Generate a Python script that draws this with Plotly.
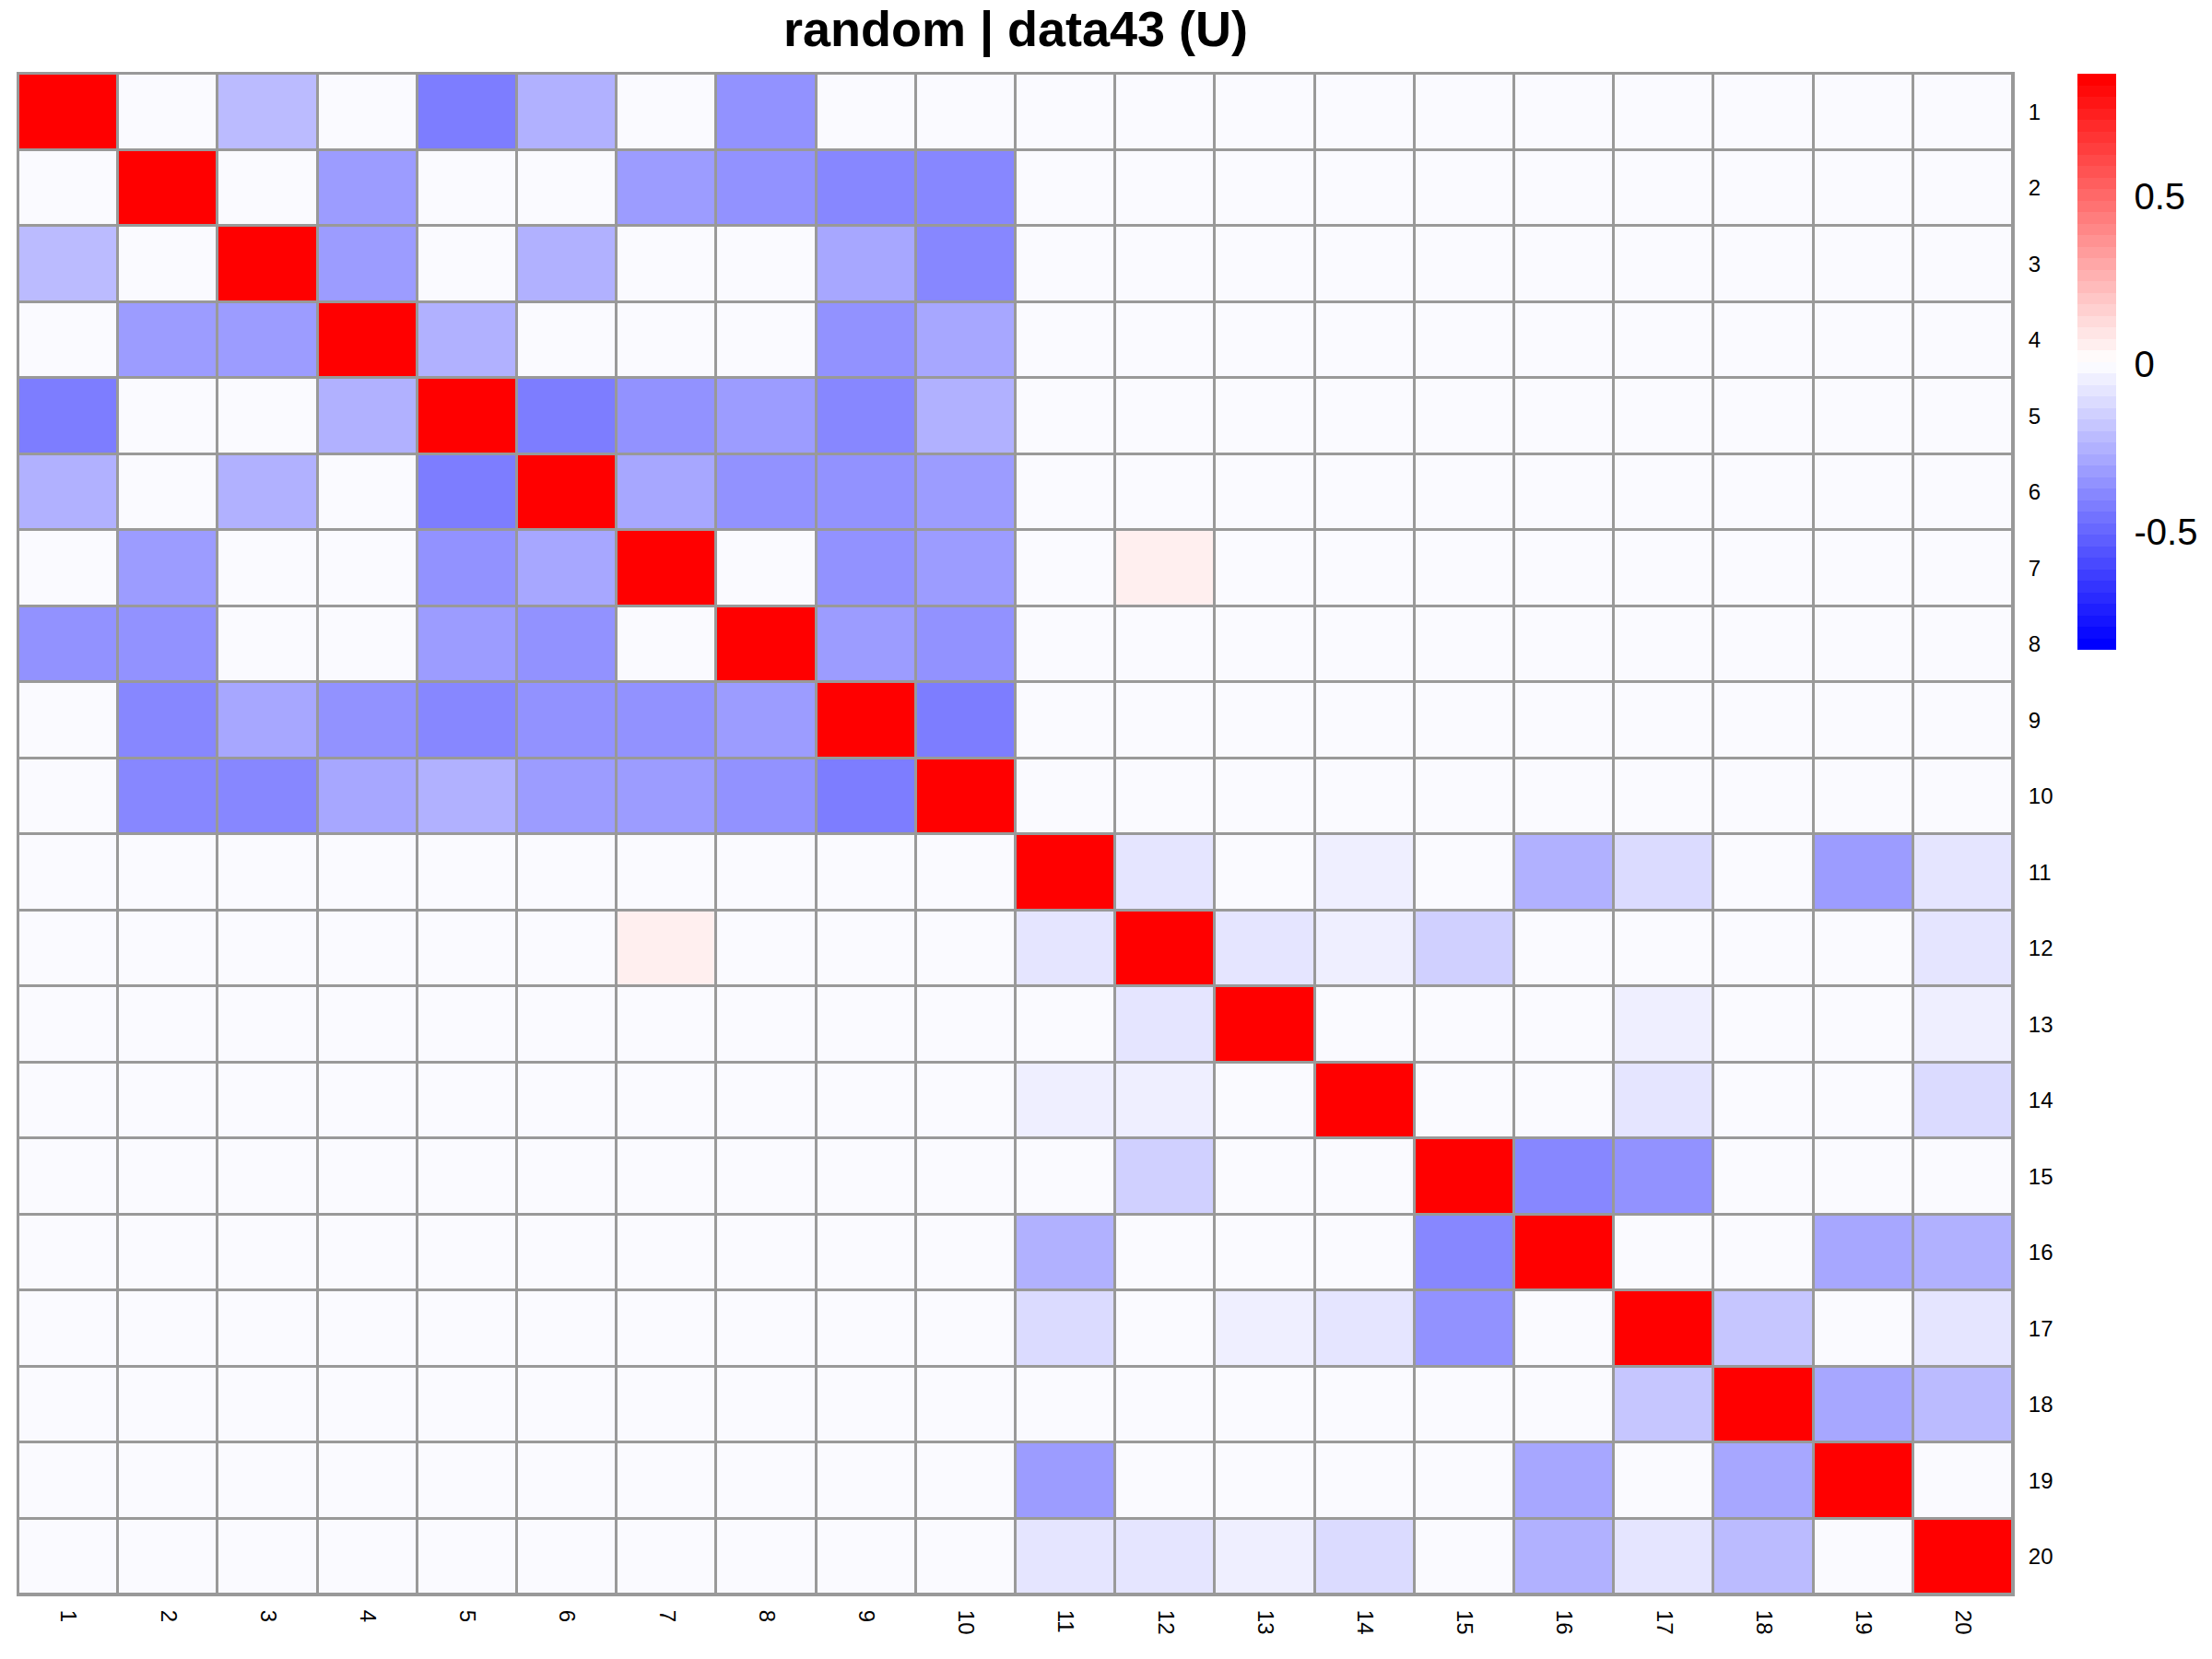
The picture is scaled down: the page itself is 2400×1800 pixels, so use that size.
import plotly.graph_objects as go

# ---- data ----
labels = [str(i) for i in range(1, 21)]
title_text = "random | data43 (U)"

z_min = -0.852
z_max = 0.865
colorbar_ticks = [-0.5, 0, 0.5]
colorbar_ticktext = ["-0.5", "0", "0.5"]

row_1 = [1, 0, -0.217, 0, -0.423, -0.251, 0, -0.354, 0, 0, 0, 0, 0, 0, 0, 0, 0, 0, 0, 0]
row_2 = [0, 1, 0, -0.320, 0, 0, -0.320, -0.354, -0.388, -0.388, 0, 0, 0, 0, 0, 0, 0, 0, 0, 0]
row_3 = [-0.217, 0, 1, -0.320, 0, -0.251, 0, 0, -0.285, -0.388, 0, 0, 0, 0, 0, 0, 0, 0, 0, 0]
row_4 = [0, -0.320, -0.320, 1, -0.251, 0, 0, 0, -0.354, -0.285, 0, 0, 0, 0, 0, 0, 0, 0, 0, 0]
row_5 = [-0.423, 0, 0, -0.251, 1, -0.423, -0.354, -0.320, -0.388, -0.251, 0, 0, 0, 0, 0, 0, 0, 0, 0, 0]
row_6 = [-0.251, 0, -0.251, 0, -0.423, 1, -0.285, -0.354, -0.354, -0.320, 0, 0, 0, 0, 0, 0, 0, 0, 0, 0]
row_7 = [0, -0.320, 0, 0, -0.354, -0.285, 1, 0, -0.354, -0.320, 0, 0.06, 0, 0, 0, 0, 0, 0, 0, 0]
row_8 = [-0.354, -0.354, 0, 0, -0.320, -0.354, 0, 1, -0.320, -0.354, 0, 0, 0, 0, 0, 0, 0, 0, 0, 0]
row_9 = [0, -0.388, -0.285, -0.354, -0.388, -0.354, -0.354, -0.320, 1, -0.423, 0, 0, 0, 0, 0, 0, 0, 0, 0, 0]
row_10 = [0, -0.388, -0.388, -0.285, -0.251, -0.320, -0.320, -0.354, -0.423, 1, 0, 0, 0, 0, 0, 0, 0, 0, 0, 0]
row_11 = [0, 0, 0, 0, 0, 0, 0, 0, 0, 0, 1, -0.079, 0, -0.045, 0, -0.251, -0.114, 0, -0.320, -0.079]
row_12 = [0, 0, 0, 0, 0, 0, 0.06, 0, 0, 0, -0.079, 1, -0.079, -0.045, -0.148, 0, 0, 0, 0, -0.079]
row_13 = [0, 0, 0, 0, 0, 0, 0, 0, 0, 0, 0, -0.079, 1, 0, 0, 0, -0.045, 0, 0, -0.045]
row_14 = [0, 0, 0, 0, 0, 0, 0, 0, 0, 0, -0.045, -0.045, 0, 1, 0, 0, -0.079, 0, 0, -0.114]
row_15 = [0, 0, 0, 0, 0, 0, 0, 0, 0, 0, 0, -0.148, 0, 0, 1, -0.388, -0.354, 0, 0, 0]
row_16 = [0, 0, 0, 0, 0, 0, 0, 0, 0, 0, -0.251, 0, 0, 0, -0.388, 1, 0, 0, -0.285, -0.251]
row_17 = [0, 0, 0, 0, 0, 0, 0, 0, 0, 0, -0.114, 0, -0.045, -0.079, -0.354, 0, 1, -0.182, 0, -0.079]
row_18 = [0, 0, 0, 0, 0, 0, 0, 0, 0, 0, 0, 0, 0, 0, 0, 0, -0.182, 1, -0.285, -0.217]
row_19 = [0, 0, 0, 0, 0, 0, 0, 0, 0, 0, -0.320, 0, 0, 0, 0, -0.285, 0, -0.285, 1, 0]
row_20 = [0, 0, 0, 0, 0, 0, 0, 0, 0, 0, -0.079, -0.079, -0.045, -0.114, 0, -0.251, -0.079, -0.217, 0, 1]

matrix = [row_1, row_2, row_3, row_4, row_5, row_6, row_7, row_8, row_9, row_10,
          row_11, row_12, row_13, row_14, row_15, row_16, row_17, row_18, row_19, row_20]

# ---- stepped blue-white-red colour scale (50 bands) ----
n_bands = 50
def ramp(p):
    if p <= 0.5:
        t = p / 0.5
        return (round(255 * t), round(255 * t), 255)
    t = (p - 0.5) / 0.5
    return (255, round(255 * (1 - t)), round(255 * (1 - t)))

band_colors = ["rgb(%d,%d,%d)" % ramp(i / (n_bands - 1)) for i in range(n_bands)]
colorscale = []
for i, c in enumerate(band_colors):
    colorscale.append([i / n_bands, c])
    colorscale.append([(i + 1) / n_bands, c])

grid_grey = "#999999"
font_family = "Liberation Sans, Arial, sans-serif"

fig = go.Figure(
    go.Heatmap(
        z=matrix,
        x=labels,
        y=labels,
        zmin=z_min,
        zmax=z_max,
        colorscale=colorscale,
        xgap=3,
        ygap=3,
        hoverongaps=False,
        colorbar=dict(
            x=(2254 - 20) / 2164,
            xanchor="left",
            xpad=0,
            y=1,
            yanchor="top",
            ypad=0,
            thickness=42,
            lenmode="pixels",
            len=625,
            outlinewidth=0,
            tickvals=colorbar_ticks,
            ticktext=colorbar_ticktext,
            ticks="outside",
            ticklen=12,
            tickcolor="rgba(0,0,0,0)",
            tickfont=dict(family=font_family, size=40, color="black"),
        ),
    )
)

fig.update_layout(
    width=2400,
    height=1800,
    margin=dict(l=20, r=216, t=80, b=70),
    paper_bgcolor="white",
    plot_bgcolor=grid_grey,
    title=dict(
        text=title_text,
        x=0.5,
        xref="paper",
        xanchor="center",
        y=1 - 31 / 1800,
        yref="container",
        yanchor="middle",
        font=dict(family=font_family, size=54, color="black", weight="bold"),
    ),
    xaxis=dict(
        type="category",
        tickangle=90,
        showgrid=False,
        zeroline=False,
        ticks="",
        ticklabelstandoff=10,
        tickfont=dict(family=font_family, size=24, color="black"),
        showline=True,
        linecolor=grid_grey,
        linewidth=2,
        mirror=True,
    ),
    yaxis=dict(
        type="category",
        autorange="reversed",
        side="right",
        showgrid=False,
        zeroline=False,
        ticks="",
        ticklabelstandoff=10,
        tickfont=dict(family=font_family, size=24, color="black"),
        showline=True,
        linecolor=grid_grey,
        linewidth=2,
        mirror=True,
    ),
)

fig.write_html("out.html")
